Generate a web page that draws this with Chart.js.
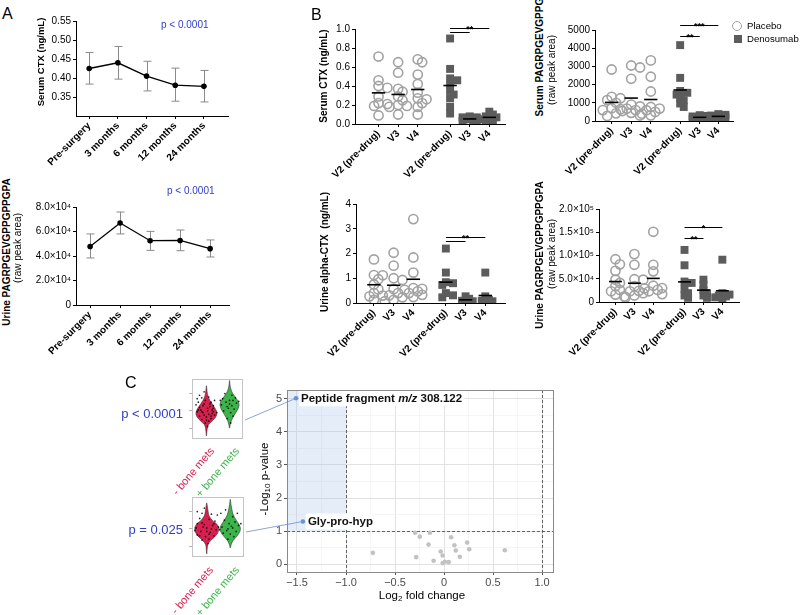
<!DOCTYPE html>
<html>
<head>
<meta charset="utf-8">
<title>Figure</title>
<script src="https://cdn.jsdelivr.net/npm/chart.js@4.4.1/dist/chart.umd.min.js"></script>
<style>
  body { margin: 0; background: #fff; }
  #fig { position: relative; width: 800px; height: 615px; overflow: hidden; font-family: "Liberation Sans", Arial, sans-serif; }
  #fig canvas { position: absolute; }
  .lbl { position: absolute; white-space: nowrap; line-height: 1; color: #000; }
  .lbl sub { font-size: 0.7em; vertical-align: -0.25em; }
</style>
</head>
<body>
<div id="fig"></div>
<script>
// ---------- Panel A: values over time ----------
const A_TIMES = ['Pre-surgery', '3 months', '6 months', '12 months', '24 months'];
const A_CTX_MEAN = [0.425, 0.440, 0.405, 0.381, 0.378];
const A_CTX_LO   = [0.384, 0.397, 0.366, 0.339, 0.337];
const A_CTX_HI   = [0.467, 0.483, 0.444, 0.426, 0.420];
const A_CTX_TICKS = [0.35, 0.40, 0.45, 0.50, 0.55];
const A_PEP_MEAN = [4.78e4, 6.69e4, 5.25e4, 5.27e4, 4.60e4];
const A_PEP_LO   = [3.84e4, 5.80e4, 4.46e4, 4.43e4, 3.92e4];
const A_PEP_HI   = [5.80e4, 7.59e4, 6.01e4, 6.12e4, 5.31e4];
const A_PEP_TICKS = [0, 2e4, 4e4, 6e4, 8e4];

// ---------- Panel B: placebo vs denosumab, per visit ----------
const B_VISITS = ['V2 (pre-drug)', 'V3', 'V4', 'V2 (pre-drug)', 'V3', 'V4'];

const SCTX_PLACEBO = [
  [0.71, 0.46, 0.40, 0.38, 0.29, 0.22, 0.21, 0.19, 0.09],
  [0.65, 0.54, 0.37, 0.34, 0.29, 0.25, 0.20, 0.19, 0.18, 0.10],
  [0.68, 0.65, 0.52, 0.42, 0.33, 0.27, 0.26, 0.22, 0.18, 0.10]
];
const SCTX_DENO = [
  [0.90, 0.58, 0.48, 0.46, 0.41, 0.35, 0.31, 0.27, 0.18, 0.11],
  [0.08, 0.07, 0.07, 0.06, 0.05, 0.05, 0.04, 0.03, 0.03],
  [0.13, 0.10, 0.08, 0.07, 0.06, 0.05, 0.04, 0.03]
];
const SCTX_TICKS = [0, 0.2, 0.4, 0.6, 0.8, 1.0];
const SCTX_SIG = [[3, 5, 1.01, '**'], [3, 4, 0.97, '']];

const SPEP_PLACEBO = [
  [2830, 1330, 1250, 1150, 1000, 700, 650, 600, 420, 280],
  [3050, 2940, 2320, 900, 800, 680, 600, 550, 450, 300],
  [3330, 2430, 1620, 770, 680, 590, 500, 400, 310]
];
const SPEP_DENO = [
  [4170, 2370, 1650, 1550, 1450, 1270, 1140, 960, 770],
  [320, 280, 250, 220, 200, 180, 150, 120, 100],
  [380, 340, 300, 270, 250, 220, 200, 180, 150]
];
const SPEP_TICKS = [0, 1000, 2000, 3000, 4000, 5000];
const SPEP_SIG = [[3, 5, 5275, '***'], [3, 4, 4670, '**']];

const UCTX_PLACEBO = [
  [1.76, 1.13, 1.12, 0.96, 0.75, 0.55, 0.40, 0.30, 0.27, 0.13],
  [2.03, 1.51, 1.00, 0.93, 0.56, 0.40, 0.31, 0.23, 0.13, 0.07],
  [3.39, 1.84, 1.23, 0.60, 0.57, 0.53, 0.47, 0.40, 0.33, 0.24]
];
const UCTX_DENO = [
  [2.20, 1.23, 0.84, 0.80, 0.73, 0.40, 0.31, 0.23],
  [0.27, 0.17, 0.09, 0.07, 0.04],
  [1.23, 0.27, 0.13, 0.09, 0.07, 0.03]
];
const UCTX_TICKS = [0, 1, 2, 3, 4];
const UCTX_SIG = [[3, 5, 2.67, '**'], [3, 4, 2.5, '']];

const UPEP_PLACEBO = [
  [9.2e4, 8.1e4, 6.7e4, 4.8e4, 4.1e4, 3.4e4, 2.6e4, 2.3e4, 1.6e4, 1.2e4],
  [10.3e4, 8.0e4, 4.9e4, 4.8e4, 3.4e4, 2.4e4, 2.3e4, 1.9e4, 1.4e4, 1.0e4],
  [15.1e4, 8.0e4, 6.6e4, 3.5e4, 3.0e4, 2.9e4, 2.6e4, 2.3e4, 1.7e4]
];
const UPEP_DENO = [
  [11.2e4, 7.9e4, 4.4e4, 4.1e4, 2.8e4, 1.9e4, 1.4e4, 0.9e4],
  [4.8e4, 3.7e4, 2.6e4, 1.9e4, 1.4e4, 0.9e4],
  [9.1e4, 1.9e4, 1.6e4, 1.4e4, 1.2e4, 1.0e4, 0.7e4]
];
const UPEP_TICKS = [0, 5e4, 1e5, 1.5e5, 2e5];
const UPEP_SIG = [[3, 5, 1.61e5, '*'], [3, 4, 1.38e5, '**']];

// ---------- Panel C: volcano + violins ----------
const VOL_FC = [-0.295, -0.144, -0.247, 0.072, 0.236, -0.158, 0.106, 0.257, 0.12, -0.034, 0.62, -0.726, -0.014, 0.161, -0.284, -0.106, 0.01, 0.048, -0.014];
const VOL_P  = [0.95, 0.95, 0.83, 0.81, 0.65, 0.59, 0.57, 0.45, 0.41, 0.38, 0.42, 0.34, 0.26, 0.22, 0.21, 0.10, 0.07, 0.06, 0.03];
const HIT_NAMES = ['Peptide fragment m/z 308.122', 'Gly-pro-hyp'];
const HIT_FC = [-1.51, -1.44];
const HIT_P  = [5.02, 1.29];
const FC_CUT = 1;
const P_CUT = 1;

// violin outlines: levels and half widths
const VIO_TOP_NEG_Y = [1.45, 1.2, 1.0, 0.8, 0.6, 0.4, 0.2, 0.0, -0.2, -0.4, -0.6, -0.8, -1.0, -1.2, -1.45];
const VIO_TOP_NEG_W = [0, 0.02, 0.04, 0.08, 0.15, 0.25, 0.35, 0.43, 0.45, 0.38, 0.24, 0.09, 0.04, 0.02, 0];
const VIO_TOP_POS_Y = [1.75, 1.5, 1.25, 1.0, 0.8, 0.6, 0.4, 0.2, 0.0, -0.2, -0.4, -0.6, -0.8, -1.0];
const VIO_TOP_POS_W = [0, 0.02, 0.06, 0.14, 0.25, 0.35, 0.41, 0.39, 0.32, 0.23, 0.14, 0.07, 0.03, 0];
const VIO_BOT_NEG_Y = [1.5, 1.25, 1.0, 0.75, 0.5, 0.3, 0.1, -0.1, -0.3, -0.5, -0.7, -0.9, -1.15, -1.45];
const VIO_BOT_NEG_W = [0, 0.03, 0.06, 0.1, 0.23, 0.41, 0.5, 0.5, 0.44, 0.31, 0.15, 0.05, 0.02, 0];
const VIO_BOT_POS_Y = [1.7, 1.4, 1.1, 0.8, 0.5, 0.3, 0.1, -0.1, -0.3, -0.5, -0.7, -0.9, -1.1];
const VIO_BOT_POS_W = [0, 0.03, 0.07, 0.13, 0.25, 0.35, 0.42, 0.42, 0.35, 0.23, 0.11, 0.04, 0];

// jittered samples [dx, y]
const DOTS_TOP_NEG = [[-0.3,0.9],[-0.4,0.7],[-0.2,0.75],[0.1,0.8],[0.35,0.6],[-0.35,0.5],[0.2,0.5],[-0.1,0.4],[0.3,0.3],[-0.3,0.2],[0.05,0.15],[0.25,0.05],[-0.4,-0.05],[-0.15,-0.1],[0.1,-0.2],[0.35,-0.25],[-0.3,-0.3],[0,-0.35],[0.2,-0.45],[-0.2,-0.5],[0.1,-0.6],[-0.05,-0.7],[0.3,-0.05],[-0.25,0.05],[0.15,0.25],[-0.45,0.35],[0.45,-0.1],[0.05,-0.9],[-0.1,1.1],[0.2,-0.3],[-0.1,-0.25],[0.05,0.0],[-0.2,-0.05],[0.25,-0.15],[0.0,-0.55],[-0.35,0.05],[0.15,0.4],[-0.05,0.6],[0.3,0.15],[-0.15,0.3]];
const DOTS_TOP_POS = [[-0.2,1.0],[0.1,0.9],[-0.3,0.7],[0.25,0.75],[0,0.6],[-0.15,0.5],[0.3,0.45],[-0.35,0.35],[0.1,0.3],[-0.05,0.15],[0.2,0.1],[-0.25,0],[0.05,-0.1],[0.15,-0.3],[-0.1,-0.45],[0.4,0.55],[-0.4,0.6],[0.05,-0.7],[0.0,0.4],[-0.1,0.25],[0.15,0.6]];
const DOTS_BOT_NEG = [[-0.4,1.0],[-0.2,0.9],[0.2,0.85],[0.45,0.8],[-0.3,0.6],[0.1,0.55],[0.35,0.45],[-0.4,0.3],[-0.1,0.25],[0.25,0.2],[-0.45,0.05],[0,0.05],[0.4,-0.05],[-0.25,-0.15],[0.15,-0.2],[-0.4,-0.35],[0.3,-0.4],[-0.05,-0.45],[0.1,-0.6],[-0.2,-0.65],[0.5,0.1],[-0.5,-0.1],[0.05,-0.85],[0.6,0.9],[-0.1,1.2],[0.2,0.0],[-0.15,0.1],[0.1,-0.3],[-0.3,-0.4],[0.3,0.3],[0.0,-0.15],[-0.2,0.35]];
const DOTS_BOT_POS = [[-0.2,1.1],[0.3,0.9],[0.1,0.7],[-0.25,0.5],[0.2,0.4],[-0.05,0.3],[0.35,0.2],[-0.35,0.1],[0.1,0.05],[-0.15,-0.1],[0.25,-0.15],[0,-0.3],[-0.3,-0.25],[0.15,-0.45],[-0.1,-0.6],[0.45,0.3],[-0.45,-0.05],[0.05,0.15],[-0.1,0.0]];

const FONT = '"Liberation Sans", Arial, sans-serif';
const RED = '#d81f4f', GREEN = '#3bb54a', PBLUE = '#3040c8';

Chart.defaults.font.family = FONT;
Chart.defaults.color = '#000';
Chart.defaults.animation = false;
Chart.defaults.responsive = false;
Chart.defaults.plugins.legend.display = false;
Chart.defaults.plugins.tooltip.enabled = false;

const fig = document.getElementById('fig');

// canvas placed so the plot area lands on `area` (page px); pad = [l, t, r, b]
function place(area, pad) {
  const c = document.createElement('canvas');
  c.width = area[2] - area[0] + pad[0] + pad[2];
  c.height = area[3] - area[1] + pad[1] + pad[3];
  c.style.left = (area[0] - pad[0]) + 'px';
  c.style.top = (area[1] - pad[1]) + 'px';
  fig.appendChild(c);
  return c;
}

function label(html, x, y, css, mode) {
  const d = document.createElement('div');
  d.className = 'lbl';
  d.innerHTML = html;
  d.style.cssText += 'left:' + x + 'px;top:' + y + 'px;' + (css || '');
  const tf = {
    c: 'translate(-50%,-50%)',
    l: 'translate(0,-50%)',
    r: 'translate(-100%,-50%)',
    v: 'translate(-50%,-50%) rotate(-90deg)'
  };
  if (mode === 'd') {
    d.style.transformOrigin = '0 0';
    d.style.transform = 'rotate(-50deg) translate(-100%,-50%)';
  } else {
    d.style.transform = tf[mode || 'l'];
  }
  fig.appendChild(d);
}

const SUP = {'0':'⁰','1':'¹','2':'²','3':'³','4':'⁴','5':'⁵','6':'⁶','7':'⁷','8':'⁸','9':'⁹'};
function sci(v) {
  if (v === 0) return '0';
  const e = Math.floor(Math.log10(v) + 1e-9);
  return (v / Math.pow(10, e)).toFixed(1) + '×10' + String(e).split('').map(c => SUP[c]).join('');
}
const avg = a => a.reduce((s, v) => s + v, 0) / a.length;

// simple beeswarm: spread points sideways when they would overlap
function swarm(vals, center, pxX, pxY, diam) {
  const placed = [];
  const out = new Array(vals.length);
  const order = vals.map((v, i) => i).sort((a, b) => vals[b] - vals[a]);
  const step = diam * 0.42;
  for (const i of order) {
    const py = vals[i] * pxY;
    let best = 0, bestD = -1;
    for (let k = 0; k < 5; k++) {
      const off = (k % 2 ? 1 : -1) * Math.ceil(k / 2) * step;
      const d = placed.reduce((m, p) => Math.min(m, Math.hypot(p[0] - off, p[1] - py)), Infinity);
      if (d >= diam * 0.5) { best = off; bestD = d; break; }
      if (d > bestD) { bestD = d; best = off; }
    }
    placed.push([best, py]);
    out[i] = center + best / pxX;
  }
  return out;
}

// ---------- plugins ----------
const errBars = {
  id: 'errBars',
  beforeDatasetsDraw(chart, args, o) {
    if (!o.lo) return;
    const {ctx, scales: {x, y}} = chart;
    ctx.save();
    ctx.strokeStyle = o.color;
    ctx.lineWidth = 1;
    o.lo.forEach((lo, i) => {
      const px = Math.round(x.getPixelForValue(i)) + 0.5;
      const y1 = y.getPixelForValue(lo), y2 = y.getPixelForValue(o.hi[i]);
      ctx.beginPath();
      ctx.moveTo(px, y1); ctx.lineTo(px, y2);
      ctx.moveTo(px - o.cap, y1); ctx.lineTo(px + o.cap, y1);
      ctx.moveTo(px - o.cap, y2); ctx.lineTo(px + o.cap, y2);
      ctx.stroke();
    });
    ctx.restore();
  }
};

const sigBars = {
  id: 'sigBars',
  afterDraw(chart, args, o) {
    if (!o.items) return;
    const {ctx, scales: {x, y}} = chart;
    ctx.save();
    ctx.strokeStyle = '#000';
    ctx.fillStyle = '#000';
    ctx.lineWidth = 1;
    ctx.font = 'bold 9px ' + FONT;
    ctx.textAlign = 'center';
    ctx.textBaseline = 'alphabetic';
    o.items.forEach(s => {
      const x1 = x.getPixelForValue(o.pos[s[0]]), x2 = x.getPixelForValue(o.pos[s[1]]);
      const py = Math.round(y.getPixelForValue(s[2])) + 0.5;
      ctx.beginPath(); ctx.moveTo(x1, py); ctx.lineTo(x2, py); ctx.stroke();
      if (s[3]) ctx.fillText(s[3], (x1 + x2) / 2, py + 3);
    });
    ctx.restore();
  }
};

// closed Catmull-Rom outline through the violin edge points
function smoothLoop(ctx, pts) {
  const n = pts.length;
  ctx.moveTo(pts[0][0], pts[0][1]);
  for (let i = 0; i < n; i++) {
    const p0 = pts[(i - 1 + n) % n], p1 = pts[i], p2 = pts[(i + 1) % n], p3 = pts[(i + 2) % n];
    ctx.bezierCurveTo(
      p1[0] + (p2[0] - p0[0]) / 6, p1[1] + (p2[1] - p0[1]) / 6,
      p2[0] - (p3[0] - p1[0]) / 6, p2[1] - (p3[1] - p1[1]) / 6,
      p2[0], p2[1]);
  }
}

const violins = {
  id: 'violins',
  beforeDatasetsDraw(chart, args, o) {
    if (!o.items) return;
    const {ctx, scales: {x, y}} = chart;
    o.items.forEach(v => {
      const right = v.ys.map((yy, i) => [x.getPixelForValue(v.x + v.ws[i]), y.getPixelForValue(yy)]);
      const left = v.ys.map((yy, i) => [x.getPixelForValue(v.x - v.ws[i]), y.getPixelForValue(yy)]).reverse().slice(1, -1);
      ctx.save();
      ctx.beginPath();
      smoothLoop(ctx, right.concat(left));
      ctx.closePath();
      ctx.fillStyle = v.color;
      ctx.fill();
      ctx.strokeStyle = '#333';
      ctx.lineWidth = 0.6;
      ctx.stroke();
      ctx.restore();
    });
  },
  afterDraw(chart, args, o) {
    if (!o.items) return;
    const {ctx, chartArea: a} = chart;
    ctx.save();
    ctx.strokeStyle = '#c4c4c4';
    ctx.lineWidth = 1;
    ctx.strokeRect(Math.round(a.left) + 0.5, Math.round(a.top) + 0.5, Math.round(a.right - a.left), Math.round(a.bottom - a.top));
    ctx.restore();
  }
};

const volcano = {
  id: 'volcano',
  beforeDatasetsDraw(chart, args, o) {
    if (o.fc === undefined) return;
    const {ctx, chartArea: a, scales: {x, y}} = chart;
    const sx = x.getPixelForValue(-o.fc), sy = y.getPixelForValue(o.p);
    ctx.save();
    ctx.fillStyle = 'rgba(176, 200, 238, 0.33)';
    ctx.fillRect(a.left, a.top, sx - a.left, sy - a.top);
    ctx.setLineDash([3, 2]);
    ctx.strokeStyle = '#555';
    ctx.lineWidth = 0.9;
    [-o.fc, o.fc].forEach(v => {
      const px = Math.round(x.getPixelForValue(v)) + 0.5;
      ctx.beginPath(); ctx.moveTo(px, a.top); ctx.lineTo(px, a.bottom); ctx.stroke();
    });
    const hy = Math.round(sy) + 0.5;
    ctx.beginPath(); ctx.moveTo(a.left, hy); ctx.lineTo(a.right, hy); ctx.stroke();
    ctx.restore();
  },
  afterDatasetsDraw(chart, args, o) {
    if (o.fc === undefined) return;
    const {ctx, scales: {x, y}} = chart;
    const cx = parseFloat(chart.canvas.style.left), cy = parseFloat(chart.canvas.style.top);
    ctx.save();
    // connectors to the inset violins
    ctx.strokeStyle = '#7d9bd6';
    ctx.lineWidth = 0.9;
    o.names.forEach((nm, i) => {
      const px = x.getPixelForValue(o.hx[i]), py = y.getPixelForValue(o.hy[i]);
      ctx.beginPath();
      ctx.moveTo(o.from[i][0] - cx, o.from[i][1] - cy);
      ctx.lineTo(px, py);
      ctx.stroke();
    });
    // text labels with white backing
    ctx.textBaseline = 'middle';
    o.names.forEach((nm, i) => {
      const px = x.getPixelForValue(o.hx[i]) + 5, py = y.getPixelForValue(o.hy[i]);
      const parts = nm.split(/(m\/z)/).filter(s => s).map(s => [s, s === 'm/z' ? 'italic bold 11.5px ' + FONT : 'bold 11.5px ' + FONT]);
      let w = 0;
      parts.forEach(p => { ctx.font = p[1]; w += ctx.measureText(p[0]).width; });
      ctx.fillStyle = '#fff';
      ctx.fillRect(px - 2, py - 8, w + 4, 16);
      let tx = px;
      ctx.fillStyle = '#111';
      parts.forEach(p => { ctx.font = p[1]; ctx.fillText(p[0], tx, py + 0.5); tx += ctx.measureText(p[0]).width; });
    });
    ctx.restore();
  },
  afterDraw(chart, args, o) {
    if (o.fc === undefined) return;
    const {ctx, chartArea: a} = chart;
    ctx.save();
    ctx.strokeStyle = '#8a8a8a';
    ctx.lineWidth = 1;
    ctx.strokeRect(Math.round(a.left) + 0.5, Math.round(a.top) + 0.5, Math.round(a.right - a.left), Math.round(a.bottom - a.top));
    ctx.restore();
  }
};

Chart.register(errBars, sigBars, violins, volcano);

// ---------- axis helpers (Prism look) ----------
function prismY(min, max, ticks, fmt, w) {
  return {
    min: min, max: max,
    afterFit: s => { s.width = w; },
    afterBuildTicks: s => { s.ticks = ticks.map(v => ({value: v})); },
    ticks: { callback: fmt, font: {size: 10}, padding: 2, color: '#000' },
    grid: { drawOnChartArea: false, tickLength: 3, color: '#000' },
    border: { color: '#000', width: 1 }
  };
}
function prismX(min, max, pos, labels, h) {
  return {
    type: 'linear', min: min, max: max,
    afterFit: s => { s.height = h; },
    afterBuildTicks: s => { s.ticks = pos.map(v => ({value: v})); },
    ticks: { callback: (v, i) => labels[i], autoSkip: false, minRotation: 45, maxRotation: 45, font: {size: 10, weight: 'bold'}, padding: 1, color: '#000' },
    grid: { drawOnChartArea: false, tickLength: 3, color: '#000' },
    border: { color: '#000', width: 1 }
  };
}
function padding(p) { return { padding: { left: 0, top: p[1], right: p[2], bottom: 0 } }; }

// ---------- Panel A charts ----------
function makeA(area, xr, yr, ticks, fmt, mean, lo, hi) {
  const pad = [48, 10, 6, 72];
  new Chart(place(area, pad), {
    type: 'scatter',
    data: { datasets: [{
      data: mean.map((v, i) => ({x: i, y: v})),
      showLine: true, borderColor: '#000', borderWidth: 1.3,
      pointRadius: 2.8, pointBackgroundColor: '#000', pointBorderWidth: 0
    }] },
    options: {
      layout: padding(pad),
      scales: { x: prismX(xr[0], xr[1], [0, 1, 2, 3, 4], A_TIMES, pad[3]), y: prismY(yr[0], yr[1], ticks, fmt, pad[0]) },
      plugins: { errBars: { lo: lo, hi: hi, color: '#8a8a8a', cap: 4 } }
    }
  });
}
makeA([76, 21, 228, 116], [-0.46, 4.84], [0.30, 0.55], A_CTX_TICKS, v => v.toFixed(2), A_CTX_MEAN, A_CTX_LO, A_CTX_HI);
makeA([76, 207, 229, 305], [-0.47, 4.63], [0, 8e4], A_PEP_TICKS, sci, A_PEP_MEAN, A_PEP_LO, A_PEP_HI);

// ---------- Panel B charts ----------
function makeB(area, pos, xr, yr, ticks, fmt, placebo, deno, sig) {
  const pad = [42, 16, 8, 68];
  const pxX = (area[2] - area[0]) / (xr[1] - xr[0]);
  const pxY = (area[3] - area[1]) / (yr[1] - yr[0]);
  const groups = placebo.concat(deno);
  const means = groups.map((g, i) => ({
    data: [{x: pos[i] - 0.34, y: avg(g)}, {x: pos[i] + 0.34, y: avg(g)}],
    showLine: true, borderColor: '#000', borderWidth: 1.6, pointRadius: 0
  }));
  const scatter = (set, off, diam) => set.flatMap((g, i) => {
    const xs = swarm(g, pos[i + off], pxX, pxY, diam);
    return g.map((v, j) => ({x: xs[j], y: v}));
  });
  new Chart(place(area, pad), {
    type: 'scatter',
    data: { datasets: means.concat([
      { data: scatter(deno, 3, 8.5), pointStyle: 'rect', pointRadius: 5.6, pointBackgroundColor: '#5c5c5c', pointBorderWidth: 0 },
      { data: scatter(placebo, 0, 10.5), pointStyle: 'circle', pointRadius: 4.6, pointBackgroundColor: 'rgba(255,255,255,0)', pointBorderColor: '#a2a2a2', pointBorderWidth: 1.6 }
    ]) },
    options: {
      layout: padding(pad),
      scales: { x: prismX(xr[0], xr[1], pos, B_VISITS, pad[3]), y: prismY(yr[0], yr[1], ticks, fmt, pad[0]) },
      plugins: { sigBars: { items: sig, pos: pos } }
    }
  });
}
const POS_A = [0, 1, 2, 3.65, 4.65, 5.65];
const POS_B = [0, 1, 2, 3.5, 4.5, 5.45];
makeB([355, 29, 505, 124], POS_A, [-1.2, 6.45], [0, 1], SCTX_TICKS, v => v.toFixed(1), SCTX_PLACEBO, SCTX_DENO, SCTX_SIG);
makeB([595, 30, 733, 121], POS_B, [-0.85, 6.2], [0, 5000], SPEP_TICKS, v => String(v), SPEP_PLACEBO, SPEP_DENO, SPEP_SIG);
makeB([356, 204, 505, 303], POS_A, [-0.91, 6.65], [0, 4], UCTX_TICKS, v => String(v), UCTX_PLACEBO, UCTX_DENO, UCTX_SIG);
makeB([599, 209, 739, 302], POS_A, [-0.87, 6.53], [0, 2e5], UPEP_TICKS, sci, UPEP_PLACEBO, UPEP_DENO, UPEP_SIG);

// ---------- Panel C: violin insets ----------
function makeViolin(area, neg, pos, dotsNeg, dotsPos) {
  const pad = [6, 2, 2, 2];
  const dots = dotsNeg.map(d => ({x: 1 + d[0], y: d[1]})).concat(dotsPos.map(d => ({x: 2 + d[0], y: d[1]})));
  new Chart(place(area, pad), {
    type: 'scatter',
    data: { datasets: [{ data: dots, pointRadius: 0.85, pointBackgroundColor: 'rgba(0,0,0,0.85)', pointBorderWidth: 0 }] },
    options: {
      layout: { padding: { left: 0, top: pad[1], right: pad[2], bottom: pad[3] } },
      scales: {
        x: { display: false, min: 0.375, max: 2.54 },
        y: {
          min: -1.57, max: 1.84,
          afterFit: s => { s.width = pad[0]; },
          afterBuildTicks: s => { s.ticks = [-1, 0, 1].map(v => ({value: v})); },
          ticks: { display: false },
          grid: { drawOnChartArea: false, tickLength: 3, color: '#b5b5b5' },
          border: { display: false }
        }
      },
      plugins: { violins: { items: [
        { x: 1, ys: neg[0], ws: neg[1], color: RED },
        { x: 2, ys: pos[0], ws: pos[1], color: GREEN }
      ] } }
    }
  });
}
makeViolin([192, 377, 244, 440], [VIO_TOP_NEG_Y, VIO_TOP_NEG_W], [VIO_TOP_POS_Y, VIO_TOP_POS_W], DOTS_TOP_NEG, DOTS_TOP_POS);
makeViolin([192, 495, 245, 558], [VIO_BOT_NEG_Y, VIO_BOT_NEG_W], [VIO_BOT_POS_Y, VIO_BOT_POS_W], DOTS_BOT_NEG, DOTS_BOT_POS);

// ---------- Panel C: volcano ----------
const VOL_XT = [];
for (let v = -1.5; v <= 1.0001; v += 0.25) VOL_XT.push(Math.round(v * 100) / 100);
const VOL_YT = [];
for (let v = 0; v <= 5.0001; v += 0.5) VOL_YT.push(v);
const isMajorX = v => Math.abs(v * 2 - Math.round(v * 2)) < 1e-6;
const isMajorY = v => Math.abs(v - Math.round(v)) < 1e-6;
const ggTick = v => v === 0 ? '0' : (v < 0 ? '\u2212' : '') + Math.abs(v).toFixed(1);

(function () {
  const area = [287, 390, 553, 572];
  const pad = [47, 10, 8, 22];
  new Chart(place(area, pad), {
    type: 'scatter',
    data: { datasets: [
      { data: HIT_FC.map((v, i) => ({x: v, y: HIT_P[i]})), pointRadius: 2.3, pointBackgroundColor: '#6a8fd6', pointBorderWidth: 0 },
      { data: VOL_FC.map((v, i) => ({x: v, y: VOL_P[i]})), pointRadius: 2.3, pointBackgroundColor: '#c2c2c2', pointBorderWidth: 0 }
    ] },
    options: {
      layout: padding(pad),
      scales: {
        x: {
          min: -1.602, max: 1.112,
          afterFit: s => { s.height = pad[3]; },
          afterBuildTicks: s => { s.ticks = VOL_XT.map(v => ({value: v})); },
          ticks: { autoSkip: false, maxRotation: 0, callback: v => isMajorX(v) ? ggTick(v) : '', font: {size: 11}, color: '#4d4d4d', padding: 1 },
          grid: {
            color: c => isMajorX(c.tick.value) ? '#e2e2e2' : '#efefef',
            lineWidth: c => isMajorX(c.tick.value) ? 1 : 0.6,
            tickColor: c => isMajorX(c.tick.value) ? '#555' : 'rgba(0,0,0,0)',
            tickLength: 3
          },
          border: { display: false }
        },
        y: {
          min: -0.24, max: 5.27,
          afterFit: s => { s.width = pad[0]; },
          afterBuildTicks: s => { s.ticks = VOL_YT.map(v => ({value: v})); },
          ticks: { callback: v => isMajorY(v) ? String(v) : '', font: {size: 11}, color: '#4d4d4d', padding: 2 },
          grid: {
            color: c => isMajorY(c.tick.value) ? '#e2e2e2' : '#efefef',
            lineWidth: c => isMajorY(c.tick.value) ? 1 : 0.6,
            tickColor: c => isMajorY(c.tick.value) ? '#555' : 'rgba(0,0,0,0)',
            tickLength: 3
          },
          border: { display: false }
        }
      },
      plugins: { volcano: { fc: FC_CUT, p: P_CUT, names: HIT_NAMES, hx: HIT_FC, hy: HIT_P, from: [[245, 420], [246, 532]] } }
    }
  });
})();

// ---------- text ----------
label('A', 2, 14, 'font-size:16px');
label('B', 311, 15, 'font-size:16px');
label('C', 125, 383, 'font-size:16px');

label('p &lt; 0.0001', 161, 25, 'font-size:10px;color:' + PBLUE);
label('p &lt; 0.0001', 167, 191, 'font-size:10px;color:' + PBLUE);
label('Serum CTX (ng/mL)', 41, 62, 'font-size:9.5px;font-weight:bold', 'v');
label('Urine PAGRPGEVGPPGPPGPA', 7, 252, 'font-size:10px;font-weight:bold', 'v');
label('(raw peak area)', 18, 248, 'font-size:10px', 'v');

label('Serum CTX (ng/mL)', 324, 76, 'font-size:10px;font-weight:bold', 'v');
label('Serum PAGRPGEVGPPGPPGPA', 540, 40, 'font-size:10px;font-weight:bold', 'v');
label('(raw peak area)', 552, 70, 'font-size:10px', 'v');
label('Urine alpha-CTX&nbsp; (ng/mL)', 325, 252, 'font-size:10px;font-weight:bold', 'v');
label('Urine PAGRPGEVGPPGPPGPA', 540, 255, 'font-size:10px;font-weight:bold', 'v');
label('(raw peak area)', 552, 254, 'font-size:10px', 'v');

// legend
const mk = (css) => { const d = document.createElement('div'); d.style.cssText = 'position:absolute;box-sizing:border-box;' + css; fig.appendChild(d); };
mk('left:732px;top:21px;width:10px;height:10px;border:1.5px solid #a2a2a2;border-radius:50%;');
mk('left:734px;top:35px;width:8px;height:8px;background:#5c5c5c;');
label('Placebo', 747, 26, 'font-size:9.6px');
label('Denosumab', 747, 39, 'font-size:9.6px');

// panel C text
label('p &lt; 0.0001', 183, 413, 'font-size:13px;color:' + PBLUE, 'r');
label('p = 0.025', 183, 529, 'font-size:13px;color:' + PBLUE, 'r');
label('- bone mets', 212, 449, 'font-size:11px;color:' + RED, 'd');
label('+ bone mets', 237, 449, 'font-size:11px;color:' + GREEN, 'd');
label('- bone mets', 211, 568, 'font-size:11px;color:' + RED, 'd');
label('+ bone mets', 237, 568, 'font-size:11px;color:' + GREEN, 'd');
label('-Log<sub>10</sub> p-value', 266, 479, 'font-size:11.5px', 'v');
label('Log<sub>2</sub> fold change', 422, 597, 'font-size:11.5px', 'c');
</script>
</body>
</html>
